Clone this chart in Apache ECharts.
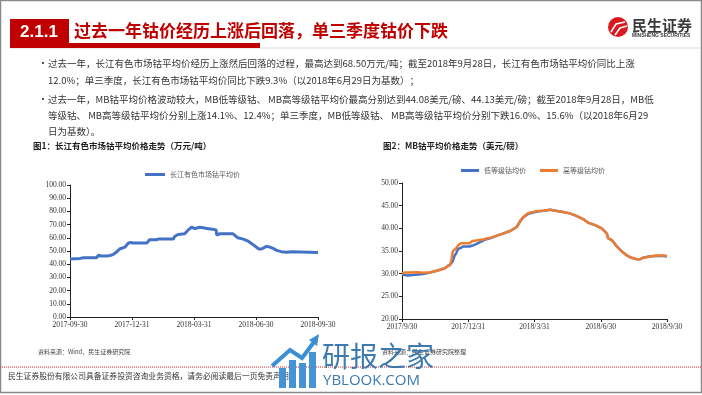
<!DOCTYPE html>
<html><head><meta charset="utf-8">
<script src="https://cdn.jsdelivr.net/npm/echarts@6/dist/echarts.min.js"></script>
<style>html,body{margin:0;padding:0;background:#fff}#c{width:702px;height:395px}</style>
</head><body><div id="c"></div>
<script>
// ---- Chart 1 data: 长江有色市场钴平均价 (万元/吨)
const cjDates = ['2017-09-30','2017-10-15','2017-10-17','2017-10-20','2017-11-08','2017-11-11','2017-11-15','2017-11-23','2017-11-28','2017-12-03','2017-12-07','2017-12-12','2017-12-20','2017-12-25','2017-12-29','2018-01-01','2018-01-21','2018-01-23','2018-01-25','2018-02-04','2018-02-07','2018-03-01','2018-03-03','2018-03-08','2018-03-10','2018-03-18','2018-03-23','2018-03-28','2018-04-02','2018-04-04','2018-04-09','2018-04-16','2018-04-19','2018-04-28','2018-05-03','2018-05-04','2018-05-08','2018-05-28','2018-05-30','2018-06-04','2018-06-12','2018-06-19','2018-06-26','2018-07-01','2018-07-05','2018-07-09','2018-07-11','2018-07-16','2018-07-21','2018-07-26','2018-07-31','2018-08-07','2018-08-14','2018-08-22','2018-08-24','2018-09-30'];
const cjValues = [44.0,44.4,45.3,44.9,44.9,46.8,46.2,46.2,46.6,47.5,49.0,51.5,53.0,56.0,56.5,56.0,56.0,57.0,58.5,58.5,59.0,59.0,61.0,62.5,62.0,63.0,66.0,68.0,67.0,68.5,68.0,67.5,67.0,66.5,66.0,62.0,63.0,63.0,62.5,60.0,59.0,57.5,55.0,53.0,51.5,51.5,53.0,53.5,53.0,52.0,50.5,49.5,49.0,49.5,49.0,48.8];
const cjTicks = ['2017-09-30','2017-12-31','2018-03-31','2018-06-30','2018-09-30'];

// ---- Chart 2 data: MB钴平均价格 (美元/磅)
const mbDates = ['2017-09-30','2017-10-04','2017-10-08','2017-10-22','2017-10-29','2017-10-31','2017-11-09','2017-11-18','2017-11-28','2017-12-02','2017-12-05','2017-12-07','2017-12-09','2017-12-11','2017-12-14','2017-12-16','2017-12-20','2017-12-23','2018-01-01','2018-01-03','2018-01-05','2018-01-10','2018-01-12','2018-01-21','2018-01-31','2018-02-08','2018-02-17','2018-02-26','2018-03-07','2018-03-12','2018-03-16','2018-03-23','2018-04-04','2018-04-13','2018-04-22','2018-04-29','2018-05-10','2018-05-19','2018-05-29','2018-06-07','2018-06-14','2018-06-23','2018-07-02','2018-07-09','2018-07-11','2018-07-16','2018-07-22','2018-07-29','2018-08-05','2018-08-12','2018-08-19','2018-08-24','2018-08-28','2018-09-06','2018-09-15','2018-09-25','2018-09-30'];
const mbLow  = [29.9,29.7,29.6,29.8,29.9,29.9,30.3,30.7,31.2,31.7,31.9,32.0,32.8,33.8,34.6,35.4,35.7,36.0,36.0,36.0,36.2,36.5,36.7,37.4,37.9,38.4,38.9,39.4,40.3,41.6,42.4,43.2,43.7,43.9,44.08,43.9,43.6,43.3,42.7,42.0,41.2,40.7,40.0,38.9,37.8,37.4,36.2,35.0,34.1,33.5,33.2,33.2,33.5,33.8,33.9,33.9,33.8];
const mbHigh = [30.1,30.25,30.25,30.3,30.2,29.9,30.3,30.7,31.2,31.7,31.9,33.0,34.9,35.3,35.7,36.2,36.7,36.7,36.7,36.9,37.2,37.3,37.4,37.6,38.0,38.4,38.9,39.4,40.3,41.7,42.5,43.4,43.8,43.9,44.13,43.9,43.6,43.3,42.7,42.0,41.2,40.7,40.0,38.9,37.8,37.4,36.2,35.0,34.1,33.5,33.2,33.2,33.5,33.8,34.0,34.0,33.9];
const mbTicks = ['2017/9/30','2017/12/31','2018/3/31','2018/6/30','2018/9/30'];

const bulletLines = [
 '过去一年，长江有色市场钴平均价经历上涨然后回落的过程，最高达到68.50万元/吨；截至2018年9月28日，长江有色市场钴平均价同比上涨',
 '12.0%；单三季度，长江有色市场钴平均价同比下跌9.3%（以2018年6月29日为基数）；',
 '过去一年，MB钴平均价格波动较大，MB低等级钴、 MB高等级钴平均价最高分别达到44.08美元/磅、44.13美元/磅；截至2018年9月28日，MB低',
 '等级钴、 MB高等级钴平均价分别上涨14.1%、12.4%；单三季度，MB低等级钴、 MB高等级钴平均价分别下跌16.0%、15.6%（以2018年6月29',
 '日为基数）。'
];

const base = Date.UTC(2017,8,30);
function day(s){const p=s.split('-').map(Number);return (Date.UTC(p[0],p[1]-1,p[2])-base)/86400000;}
function pairs(ds,vs){return ds.map((d,i)=>[day(d),vs[i]]);}

const CJK = '"Noto Sans CJK SC", "Noto Sans", sans-serif';
const SERIF = '"Liberation Serif", "DejaVu Serif", serif';

function xAxis(grid, ticks){
  return {type:'value', gridIndex:grid, min:0, max:365, interval:91.25,
    axisLine:{lineStyle:{color:'#222',width:1}},
    axisTick:{show:true,length:3,lineStyle:{color:'#222'}},
    splitLine:{show:false},
    axisLabel:{fontFamily:SERIF,fontSize:7.5,color:'#333',margin:4,
      formatter:v=>ticks[Math.round(v/91.25)]||''}};
}
function yAxis(grid,min,max,iv){
  return {type:'value', gridIndex:grid, min:min, max:max, interval:iv,
    axisLine:{show:true,lineStyle:{color:'#222',width:1}},
    axisTick:{show:true,length:3,lineStyle:{color:'#222'}},
    splitLine:{show:false},
    axisLabel:{fontFamily:SERIF,fontSize:7.5,color:'#333',margin:4,formatter:v=>v.toFixed(2)}};
}

const graphics = [];
// frame
graphics.push({type:'rect',shape:{x:0.5,y:0.5,width:701,height:392},style:{fill:'none',stroke:'#8a8a8a',lineWidth:1.5},silent:true});
// header
graphics.push({type:'line',shape:{x1:10,y1:48,x2:700,y2:48},style:{stroke:'#d9d9d9',lineWidth:1}});
graphics.push({type:'rect',shape:{x:10,y:19,width:59,height:29},style:{fill:'#C00000'}});
graphics.push({type:'rect',shape:{x:10,y:43,width:250,height:5},style:{fill:'#C00000'}});
graphics.push({type:'text',x:39,y:32,style:{text:'2.1.1',fill:'#fff',font:'bold 17px "Liberation Sans", Arial, sans-serif',textAlign:'center',textVerticalAlign:'middle'}});
graphics.push({type:'text',x:74,y:31,style:{text:'过去一年钴价经历上涨后回落，单三季度钴价下跌',fill:'#C00000',font:'bold 17px '+CJK,textAlign:'left',textVerticalAlign:'middle'}});
// logo
graphics.push({type:'circle',shape:{cx:618,cy:27,r:10},style:{fill:'#D9181F'}});
graphics.push({type:'polyline',shape:{points:[[611,32],[616,24],[625,22]]},style:{stroke:'#fff',lineWidth:1.6,fill:'none'}});
graphics.push({type:'polyline',shape:{points:[[615,35],[620,28],[627,26]]},style:{stroke:'#fff',lineWidth:1.6,fill:'none'}});
graphics.push({type:'text',x:632,y:25,style:{text:'民生证券',fill:'#3a3a3a',font:'bold 15px '+CJK,textAlign:'left',textVerticalAlign:'middle'}});
graphics.push({type:'text',x:632,y:36,style:{text:'MINSHENG SECURITIES',fill:'#3a3a3a',font:'bold 5px "Liberation Sans", sans-serif',textAlign:'left',textVerticalAlign:'middle'}});
// bullets
const bulletY = [63,80,99,115,131];
bulletY.forEach((y,i)=>{
  graphics.push({type:'text',x:48,y:y,style:{text:bulletLines[i],fill:'#333',font:'9.5px '+CJK,textAlign:'left',textVerticalAlign:'middle'}});
});
[63,99].forEach(y=>graphics.push({type:'text',x:38,y:y,style:{text:'•',fill:'#333',font:'10px '+CJK,textAlign:'left',textVerticalAlign:'middle'}}));
// chart titles
graphics.push({type:'text',x:33,y:146,style:{text:'图1：长江有色市场钴平均价格走势（万元/吨）',fill:'#222',font:'bold 8.5px '+CJK,textAlign:'left',textVerticalAlign:'middle'}});
graphics.push({type:'text',x:383,y:146,style:{text:'图2：MB钴平均价格走势（美元/磅）',fill:'#222',font:'bold 8.5px '+CJK,textAlign:'left',textVerticalAlign:'middle'}});
// sources
graphics.push({type:'text',x:38,y:352,style:{text:'资料来源：Wind，民生证券研究院',fill:'#444',font:'6px '+CJK,textAlign:'left',textVerticalAlign:'middle'}});
graphics.push({type:'text',x:382,y:352,style:{text:'资料来源：民生证券研究院整理',fill:'#444',font:'6px '+CJK,textAlign:'left',textVerticalAlign:'middle'}});
// footer
graphics.push({type:'line',shape:{x1:0,y1:367,x2:702,y2:367},style:{stroke:'#E02828',lineWidth:1,lineDash:[1,1]}});
graphics.push({type:'text',x:8,y:376,style:{text:'民生证券股份有限公司具备证券投资咨询业务资格，请务必阅读最后一页免责声明',fill:'#333',font:'7.8px '+CJK,textAlign:'left',textVerticalAlign:'middle'}});
// watermark
const wm = '#2C6FA8';
graphics.push({type:'rect',shape:{x:279,y:368,width:7,height:20},style:{fill:'#3B8FD4',opacity:0.95}});
graphics.push({type:'rect',shape:{x:289,y:360,width:7,height:28},style:{fill:'#3B8FD4',opacity:0.95}});
graphics.push({type:'rect',shape:{x:299,y:363,width:7,height:25},style:{fill:'#3B8FD4',opacity:0.95}});
graphics.push({type:'rect',shape:{x:309,y:352,width:7,height:36},style:{fill:'#3B8FD4',opacity:0.95}});
graphics.push({type:'polyline',shape:{points:[[272,366],[290,350],[302,358],[314,342]]},style:{stroke:'#3B8FD4',lineWidth:4,fill:'none'}});
graphics.push({type:'polygon',shape:{points:[[309,340],[319,334],[317,346]]},style:{fill:'#3B8FD4'}});
graphics.push({type:'text',x:322,y:356,style:{text:'研报之家',fill:wm,opacity:0.92,font:'28px '+CJK,textAlign:'left',textVerticalAlign:'middle'}});
graphics.push({type:'text',x:323,y:381,style:{text:'YBLOOK.COM',fill:wm,opacity:0.92,font:'15px "Open Sans", sans-serif',textAlign:'left',textVerticalAlign:'middle'}});

const option = {
  animation:false,
  backgroundColor:'#fff',
  legend:[
    {data:['长江有色市场钴平均价'],left:140,top:166,itemWidth:20,itemHeight:3,icon:'rect',
     textStyle:{fontFamily:CJK,fontSize:7,color:'#595959'}},
    {data:['低等级钴均价','高等级钴均价'],left:456,top:162,itemWidth:18,itemHeight:3,icon:'rect',itemGap:14,
     textStyle:{fontFamily:CJK,fontSize:7,color:'#595959'}}
  ],
  grid:[
    {left:70,top:185,width:248,height:132},
    {left:402,top:183,width:265,height:136}
  ],
  xAxis:[xAxis(0,cjTicks),xAxis(1,mbTicks)],
  yAxis:[yAxis(0,0,100,10),yAxis(1,20,50,5)],
  series:[
    {name:'长江有色市场钴平均价',type:'line',xAxisIndex:0,yAxisIndex:0,data:pairs(cjDates,cjValues),
     showSymbol:false,lineStyle:{color:'#4472C4',width:3},itemStyle:{color:'#4472C4'}},
    {name:'低等级钴均价',type:'line',xAxisIndex:1,yAxisIndex:1,data:pairs(mbDates,mbLow),
     showSymbol:false,lineStyle:{color:'#4472C4',width:2.5},itemStyle:{color:'#4472C4'}},
    {name:'高等级钴均价',type:'line',xAxisIndex:1,yAxisIndex:1,data:pairs(mbDates,mbHigh),
     showSymbol:false,lineStyle:{color:'#ED7D31',width:2.5},itemStyle:{color:'#ED7D31'}}
  ],
  graphic:graphics
};
const chart = echarts.init(document.getElementById('c'),null,{renderer:'canvas'});
chart.setOption(option);
</script></body></html>
